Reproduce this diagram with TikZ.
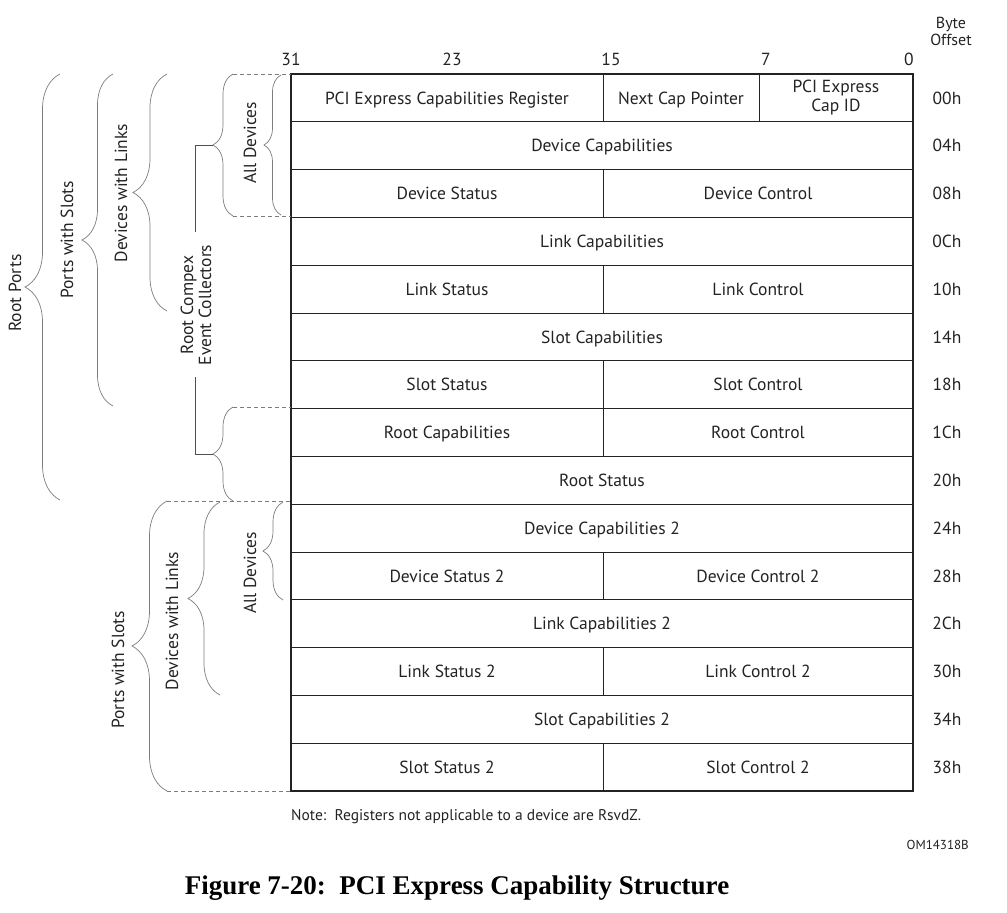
\documentclass[tikz,border=0pt]{standalone}
\usepackage{fontspec}
\setmainfont{PT Sans}
\newfontfamily\capfont{Liberation Serif}
\usetikzlibrary{decorations.pathreplacing}
\definecolor{txt}{RGB}{35,35,35}
\definecolor{brc}{RGB}{125,125,125}
\begin{document}
\begin{tikzpicture}[x=1pt,y=-1pt,
  cellbox/.style={draw=txt, line width=0.8pt, inner sep=0pt, outer sep=0pt, minimum height=47.8pt, text=txt, font=\fontsize{17.5}{18}\selectfont, align=center},
  cell/.style={cellbox, text height=12.5pt, text depth=0pt},
  lbl/.style={text=txt, font=\fontsize{17.5}{18}\selectfont, inner sep=0pt, align=center},
  blbl/.style={lbl, rotate=90},
  brc/.style={draw=brc, line width=0.7pt, decorate, decoration={brace, amplitude=#1}},
  dsh/.style={draw=brc, line width=0.8pt, dash pattern=on 4pt off 3pt},
  brk/.style={draw=txt!80, line width=0.8pt}]
\useasboundingbox (0,0) rectangle (1007,913);
% ---- table cells
\def\T{74}\def\H{47.8}
\node[cell, minimum width=312pt] (c0a) at (447,{\T+0.5*\H}) {PCI Express Capabilities Register};
\node[cell, minimum width=156pt] (c0b) at (681,{\T+0.5*\H}) {Next Cap Pointer};
\node[cellbox, minimum width=154pt, font=\fontsize{17.5}{19}\selectfont] (c0c) at (836,{\T+0.5*\H}) {PCI Express\\Cap ID};
\foreach \i/\t in {1/Device Capabilities,3/Link Capabilities,5/Slot Capabilities,8/Root Status,9/Device Capabilities 2,11/Link Capabilities 2,13/Slot Capabilities 2}
  \node[cell, minimum width=622pt] (f\i) at (602,{\T+(\i+0.5)*\H}) {\t};
\foreach \i/\a/\b in {2/Device Status/Device Control,4/Link Status/Link Control,6/Slot Status/Slot Control,7/Root Capabilities/Root Control,10/Device Status 2/Device Control 2,12/Link Status 2/Link Control 2,14/Slot Status 2/Slot Control 2}{
  \node[cell, minimum width=312pt] (l\i) at (447,{\T+(\i+0.5)*\H}) {\a};
  \node[cell, minimum width=310pt] (r\i) at (758,{\T+(\i+0.5)*\H}) {\b};
}
\node[draw=txt, line width=1.6pt, minimum width=622pt, minimum height=717pt, inner sep=0pt, outer sep=0pt] (tbl) at (602,432.5) {};
% ---- offsets
\foreach \i/\o in {0/00h,1/04h,2/08h,3/0Ch,4/10h,5/14h,6/18h,7/1Ch,8/20h,9/24h,10/28h,11/2Ch,12/30h,13/34h,14/38h}
  \node[lbl, text height=12.5pt, text depth=0pt] (o\i) at (947,{\T+(\i+0.5)*\H}) {\o};
\node[lbl, font=\fontsize{16}{17}\selectfont] (bo) at (951,31) {Byte\\Offset};
% ---- bit numbers
\foreach \x/\b in {291/31,452/23,611/15,766/7,909/0}
  \node[lbl] (b\b) at (\x,59) {\b};
% ---- upper braces
\draw[brc=35] (60,500) -- (60,74);
\node[blbl] (rp) at (15,293) {Root Ports};
\draw[brc=31] (113,406) -- (113,74);
\node[blbl] (ps1) at (67,240) {Ports with Slots};
\draw[brc=34] (167,311) -- (167,74);
\node[blbl] (dl1) at (121,193) {Devices with Links};
\draw[brc=20] (233,216) -- (233,74);
\coordinate (e1) at (213,145);
\draw[brc=20] (233,501) -- (233,407);
\coordinate (e2) at (213,454);
\draw[brc=17] (281,215) -- (281,75);
\node[blbl] (ad1) at (250,143) {All Devices};
\draw[dsh] (233,74) -- (291,74);
\draw[dsh] (233,216) -- (291,216);
\draw[dsh] (233,407) -- (291,407);
\node[blbl] (rc) at (196,305) {Root Compex\\Event Collectors};
\draw[brk] (e1) -| (195,232);
\draw[brk] (e2) -| (195,377);
% ---- lower braces
\draw[dsh] (167,501) -- (291,501);
\draw[dsh] (167,791) -- (291,791);
\draw[brc=35] (167,791) -- (167,501);
\node[blbl] (ps2) at (118,670) {Ports with Slots};
\draw[brc=32] (220,695) -- (220,502);
\node[blbl] (dl2) at (172,621) {Devices with Links};
\draw[brc=20] (283,600) -- (283,502);
\node[blbl] (ad2) at (250,573) {All Devices};
% ---- notes
\node[lbl, anchor=west, font=\fontsize{15.5}{16}\selectfont] (note) at (291,817) {Note:\ \ Registers not applicable to a device are RsvdZ.};
\node[lbl, anchor=east, font=\fontsize{13}{14}\selectfont] (om) at (969,845) {OM14318B};
\node[text=black, inner sep=0pt, font=\capfont\bfseries\fontsize{27}{28}\selectfont] (cap) at (457,888) {Figure 7-20:\ \ PCI Express Capability Structure};
\end{tikzpicture}
\end{document}
